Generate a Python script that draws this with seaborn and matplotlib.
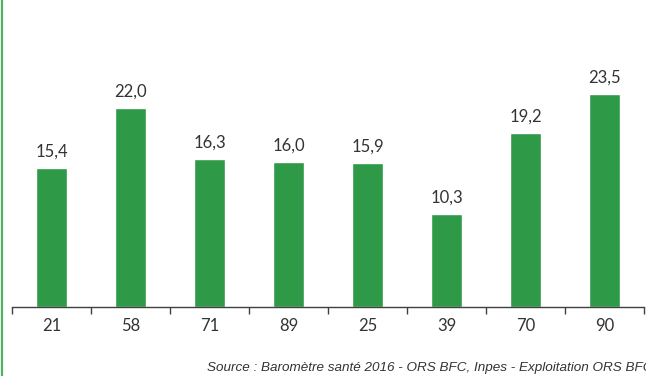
import matplotlib
matplotlib.use("Agg")
import matplotlib.pyplot as plt
import seaborn as sns
import pandas as pd
from matplotlib.lines import Line2D

departements = ["21", "58", "71", "89", "25", "39", "70", "90"]
valeurs = [15.4, 22.0, 16.3, 16.0, 15.9, 10.3, 19.2, 23.5]
source = "Source : Baromètre santé 2016 - ORS BFC, Inpes - Exploitation ORS BFC"

sns.set_theme(style="white")
plt.rcParams["font.family"] = ["Lato", "DejaVu Sans"]

W, H = 646, 376
fig = plt.figure(figsize=(W / 100, H / 100), dpi=100)
ax = fig.add_axes([12 / W, 1 - 307 / H, 632 / W, (307 - 80.7) / H])

df = pd.DataFrame({"dep": departements, "val": valeurs})
sns.barplot(data=df, x="dep", y="val", color="#2E9A48", saturation=1,
            width=0.4, ax=ax)

ax.set_ylim(0, 25)
ax.set_xlim(-0.5, len(departements) - 0.5)
for s in ["left", "right", "top"]:
    ax.spines[s].set_visible(False)
ax.spines["bottom"].set_color("#404040")
ax.spines["bottom"].set_linewidth(1.0)
ax.set_yticks([])
ax.set_xlabel("")
ax.set_ylabel("")

ax.set_xticks(range(len(departements)))
ax.set_xticklabels(departements, fontsize=12, color="#333333")
ax.tick_params(axis="x", which="major", length=0, pad=8)
ax.set_xticks([i - 0.5 for i in range(len(departements) + 1)], minor=True)
ax.tick_params(axis="x", which="minor", length=5, width=1.0,
               color="#404040", direction="out", bottom=True)

for p, v in zip(ax.patches, valeurs):
    ax.annotate(f"{v:.1f}".replace(".", ","),
                (p.get_x() + p.get_width() / 2, p.get_height()),
                xytext=(0, 6), textcoords="offset points",
                ha="center", va="bottom", fontsize=12, color="#333333")

# left frame border
fig.add_artist(Line2D([1.5 / W, 1.5 / W], [0, 1], transform=fig.transFigure,
                      color="#4DB55E", linewidth=1.6))

fig.text(207 / W, 1 - 368 / H, source, fontsize=9.7, style="italic",
         family=["Liberation Sans", "DejaVu Sans"], color="#333333",
         ha="left", va="center")

fig.savefig("out.png", dpi=100)
